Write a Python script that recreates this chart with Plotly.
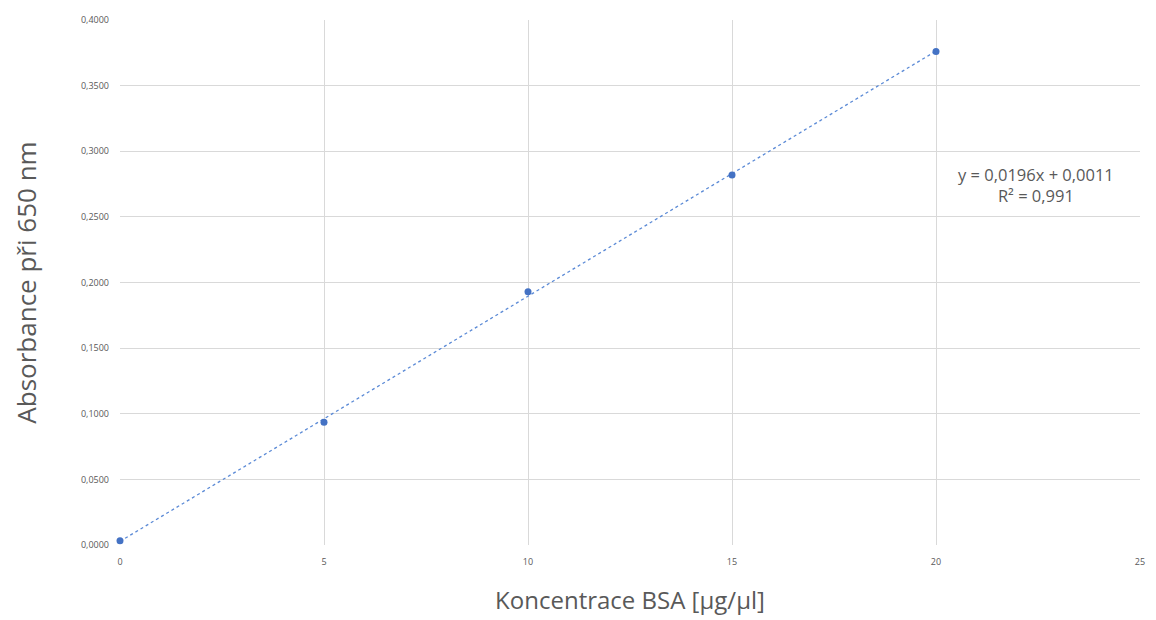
import numpy as np
import plotly.graph_objects as go

concentration = [0, 5, 10, 15, 20]
absorbance = [0.0033, 0.0935, 0.193, 0.282, 0.376]
x_ticks = [0, 5, 10, 15, 20, 25]
y_ticks = [0.0, 0.05, 0.10, 0.15, 0.20, 0.25, 0.30, 0.35, 0.40]
equation_text = "y = 0,0196x + 0,0011<br>R² = 0,991"

blue = "#4472C4"
line_blue = "#5B8AD6"
grey_text = "#595959"

slope, intercept = np.polyfit(concentration, absorbance, 1)
fit_x = [concentration[0], concentration[-1]]
fit_y = [slope * v + intercept for v in fit_x]

fig = go.Figure()
fig.add_trace(go.Scatter(x=fit_x, y=fit_y, mode="lines",
                         line=dict(color=line_blue, width=1.3, dash="dot"),
                         hoverinfo="skip", showlegend=False, cliponaxis=False))
fig.add_trace(go.Scatter(x=concentration, y=absorbance, mode="markers",
                         marker=dict(color=blue, size=7),
                         showlegend=False, cliponaxis=False))

fig.add_annotation(x=22.45, y=0.274, xref="x", yref="y", text=equation_text,
                   showarrow=False, font=dict(family="Open Sans", size=16.5, color=grey_text),
                   align="center")

fig.update_layout(
    width=1148, height=612,
    margin=dict(l=112, r=16, t=12, b=75),
    paper_bgcolor="white", plot_bgcolor="white",
    separators=", ",
    font=dict(family="Open Sans", color=grey_text),
    xaxis=dict(range=[0, 25], tickvals=x_ticks, ticktext=[str(v) for v in x_ticks],
               showgrid=True, gridcolor="#d9d9d9", gridwidth=1,
               zeroline=False, showline=False, ticks="", automargin=False,
               ticklabelstandoff=10, ticklabeloverflow="allow",
               tickfont=dict(size=9, color=grey_text),
               title=dict(text="Koncentrace BSA [µg/µl]", font=dict(size=24, color=grey_text), standoff=25)),
    yaxis=dict(range=[0, 0.4], tickvals=y_ticks, tickformat=".4f",
               showgrid=True, gridcolor="#d9d9d9", gridwidth=1,
               zeroline=False, showline=False, ticks="", automargin=False,
               ticklabelstandoff=10, ticklabeloverflow="allow",
               tickfont=dict(size=9, color=grey_text),
               title=dict(text="Absorbance při 650 nm", font=dict(size=26, color=grey_text), standoff=49)),
)

fig.write_html("out.html")
